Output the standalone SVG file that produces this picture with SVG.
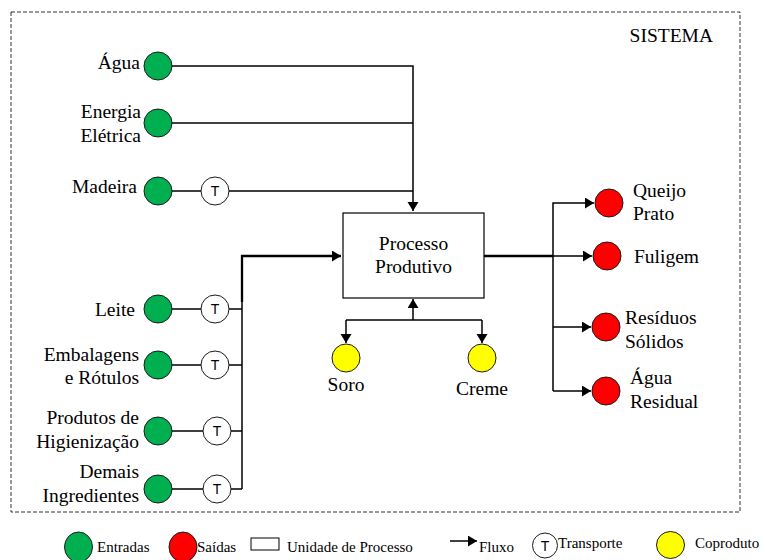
<svg xmlns="http://www.w3.org/2000/svg" width="765" height="560" viewBox="0 0 765 560">
<style>
.lbl{font-family:"Liberation Serif","Times New Roman",serif;font-size:19.5px;fill:#000}
.leg{font-family:"Liberation Serif","Times New Roman",serif;font-size:15px;fill:#000}
.t{font-family:"Liberation Sans",Arial,sans-serif;font-size:14px;fill:#000;text-anchor:middle}
.in{fill:#00B050;stroke:#1a1a1a;stroke-width:1}
.out{fill:#FF0000;stroke:#1a1a1a;stroke-width:1}
.co{fill:#FFFF00;stroke:#1a1a1a;stroke-width:1}
.tr{fill:#fff;stroke:#1a1a1a;stroke-width:1}
.ln{fill:none;stroke:#000;stroke-width:1.5}
.bold{fill:none;stroke:#000;stroke-width:2.3}
</style>
<defs>
<marker id="ah" markerUnits="userSpaceOnUse" markerWidth="10" markerHeight="12" refX="9" refY="5.5" orient="auto">
<path d="M0,0 L9,5.5 L0,11 Z" fill="#000"/>
</marker>
</defs>
<rect id="sistema" x="11" y="12" width="729" height="500" fill="none" stroke="#333" stroke-width="1" stroke-dasharray="4,2"/>
<text class="lbl" x="713" y="42" text-anchor="end">SISTEMA</text>

<g id="connectors">
<path class="ln" d="M172,66 H413 V211" marker-end="url(#ah)"/>
<path class="ln" d="M172,123 H413"/>
<path class="ln" d="M172,191 H201 M229,191 H413"/>
<path class="ln" d="M172,309 H201 M229,309 H242"/>
<path class="ln" d="M172,365 H201 M229,365 H242"/>
<path class="ln" d="M172,431 H203 M231,431 H242"/>
<path class="ln" d="M172,489 H203 M231,489 H242"/>
<path class="ln" d="M242,489 V300"/>
<path class="bold" d="M242,302 V256 H341" marker-end="url(#ah)"/>
<path class="bold" d="M484,256 H553"/>
<path class="ln" d="M553,256 H592" marker-end="url(#ah)"/>
<path class="ln" d="M553,391 V203 H594" marker-end="url(#ah)"/>
<path class="ln" d="M553,327 H591" marker-end="url(#ah)"/>
<path class="ln" d="M553,391 H591" marker-end="url(#ah)"/>
<path class="ln" d="M413,320 V299" marker-end="url(#ah)"/>
<path class="ln" d="M346,320 H482"/>
<path class="ln" d="M346,320 V343" marker-end="url(#ah)"/>
<path class="ln" d="M482,320 V343" marker-end="url(#ah)"/>
</g>

<g id="processo">
<rect x="343" y="213" width="141" height="85" fill="#fff" stroke="#000" stroke-width="1.2"/>
<text class="lbl" x="413.5" y="250" text-anchor="middle">Processo</text>
<text class="lbl" x="413.5" y="273" text-anchor="middle">Produtivo</text>
</g>

<g id="agua"><circle class="in" cx="158" cy="66" r="14"/><text class="lbl" x="140" y="69" text-anchor="end">Água</text></g>
<g id="energia"><circle class="in" cx="158" cy="123" r="14"/><text class="lbl" x="141" y="118" text-anchor="end">Energia</text><text class="lbl" x="141" y="142" text-anchor="end">Elétrica</text></g>
<g id="madeira"><circle class="in" cx="158" cy="191" r="14"/><text class="lbl" x="137" y="193" text-anchor="end">Madeira</text></g>
<g id="t-madeira"><circle class="tr" cx="215" cy="191" r="14"/><text class="t" x="215" y="196">T</text></g>

<g id="leite"><circle class="in" cx="158" cy="309" r="14"/><text class="lbl" x="135" y="316" text-anchor="end">Leite</text></g>
<g id="t-leite"><circle class="tr" cx="215" cy="309" r="14"/><text class="t" x="215" y="314">T</text></g>
<g id="embalagens"><circle class="in" cx="158" cy="365" r="14"/><text class="lbl" x="139" y="361" text-anchor="end">Embalagens</text><text class="lbl" x="139" y="384" text-anchor="end">e Rótulos</text></g>
<g id="t-embalagens"><circle class="tr" cx="215" cy="365" r="14"/><text class="t" x="215" y="370">T</text></g>
<g id="produtos"><circle class="in" cx="158" cy="431" r="14"/><text class="lbl" x="139" y="424" text-anchor="end">Produtos de</text><text class="lbl" x="139" y="448" text-anchor="end">Higienização</text></g>
<g id="t-produtos"><circle class="tr" cx="217" cy="431" r="14"/><text class="t" x="217" y="436">T</text></g>
<g id="demais"><circle class="in" cx="158" cy="489" r="14"/><text class="lbl" x="139" y="478" text-anchor="end">Demais</text><text class="lbl" x="139" y="502" text-anchor="end">Ingredientes</text></g>
<g id="t-demais"><circle class="tr" cx="217" cy="489" r="14"/><text class="t" x="217" y="494">T</text></g>

<g id="queijo"><circle class="out" cx="609" cy="203" r="14"/><text class="lbl" x="633" y="197">Queijo</text><text class="lbl" x="633" y="220">Prato</text></g>
<g id="fuligem"><circle class="out" cx="607" cy="256" r="14"/><text class="lbl" x="634" y="263">Fuligem</text></g>
<g id="residuos"><circle class="out" cx="606" cy="327" r="14"/><text class="lbl" x="625" y="324">Resíduos</text><text class="lbl" x="625" y="348">Sólidos</text></g>
<g id="agua-residual"><circle class="out" cx="606" cy="391" r="14"/><text class="lbl" x="630" y="384">Água</text><text class="lbl" x="630" y="408">Residual</text></g>

<g id="soro"><circle class="co" cx="346" cy="358" r="14"/><text class="lbl" x="346" y="391" text-anchor="middle">Soro</text></g>
<g id="creme"><circle class="co" cx="482" cy="358" r="14"/><text class="lbl" x="482" y="395" text-anchor="middle">Creme</text></g>

<g id="legenda">
<ellipse class="in" cx="78.5" cy="547" rx="14" ry="15"/><text class="leg" x="97" y="552">Entradas</text>
<ellipse class="out" cx="183" cy="547" rx="14" ry="15"/><text class="leg" x="197" y="552">Saídas</text>
<rect x="251" y="538" width="28" height="12" fill="#fff" stroke="#000" stroke-width="1"/><text class="leg" x="287" y="552">Unidade de Processo</text>
<path class="ln" d="M450,541 H477" marker-end="url(#ah)"/><text class="leg" x="479" y="552">Fluxo</text>
<circle class="tr" cx="545" cy="545.5" r="12.5"/><text class="t" x="545" y="550.5">T</text><text class="leg" x="558" y="548">Transporte</text>
<ellipse class="co" cx="670.5" cy="545" rx="14" ry="13.5"/><text class="leg" x="695" y="548">Coproduto</text>
</g>
</svg>
